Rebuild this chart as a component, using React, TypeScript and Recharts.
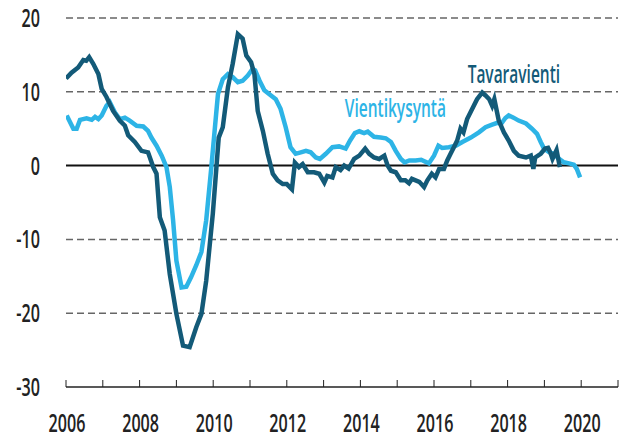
import { LineChart, Line, XAxis, YAxis, ReferenceLine, ReferenceDot } from "recharts"

// Tavaravienti (dark)
const exportYears = [
  2006.0, 2006.15, 2006.33, 2006.47, 2006.55, 2006.63, 2006.74, 2006.88, 2006.97, 2007.1,
  2007.28, 2007.46, 2007.6, 2007.69, 2007.87, 2008.05, 2008.23, 2008.37, 2008.46, 2008.55,
  2008.68, 2008.82, 2009.0, 2009.18, 2009.36, 2009.54, 2009.68, 2009.81, 2009.99, 2010.15,
  2010.26, 2010.4, 2010.53, 2010.67, 2010.8, 2010.9, 2011.03, 2011.12, 2011.21, 2011.35,
  2011.48, 2011.62, 2011.75, 2011.89, 2012.0, 2012.14, 2012.22, 2012.33, 2012.43, 2012.57,
  2012.74, 2012.88, 2013.02, 2013.1, 2013.24, 2013.33, 2013.46, 2013.56, 2013.68, 2013.83,
  2013.97, 2014.13, 2014.24, 2014.37, 2014.51, 2014.65, 2014.74, 2014.83, 2014.96, 2015.1,
  2015.22, 2015.32, 2015.4, 2015.5, 2015.6, 2015.73, 2015.82, 2015.94, 2016.04, 2016.14,
  2016.27, 2016.36, 2016.45, 2016.54, 2016.63, 2016.72, 2016.8, 2016.9, 2017.04, 2017.17,
  2017.31, 2017.4, 2017.5, 2017.58, 2017.64, 2017.76, 2017.9, 2018.03, 2018.17, 2018.3,
  2018.5, 2018.63, 2018.7, 2018.75, 2018.9, 2019.02, 2019.1, 2019.16, 2019.22, 2019.33,
  2019.42,
]
const exportValues = [
  11.8, 12.6, 13.3, 14.3, 14.2, 14.7, 13.8, 12.4, 10.4, 9.3,
  7.4, 6.1, 5.4, 4.1, 3.2, 2.0, 1.8, -0.2, -1.1, -7.0,
  -8.8, -14.7, -20.1, -24.4, -24.6, -21.9, -20.1, -15.6, -6.5, 3.8,
  5.2, 10.6, 13.8, 17.8, 17.2, 14.9, 14.0, 12.4, 7.4, 4.7,
  1.6, -1.1, -2.0, -2.5, -2.5, -3.2, 0.4, -0.2, 0.2, -0.9,
  -0.9, -1.1, -2.3, -1.4, -1.6, -0.2, -0.6, 0, -0.4, 0.9,
  1.35, 2.3, 1.6, 1.1, 0.9, 1.35, 0, -0.7, -0.9, -2.0,
  -2.0, -2.4, -1.8, -2.0, -2.2, -2.9, -2.0, -1.1, -1.6, -0.45,
  -0.45, 0.7, 1.6, 2.5, 3.4, 5.0, 4.5, 6.3, 7.7, 9.0,
  9.9, 9.5, 9.0, 8.1, 9.0, 6.1, 4.5, 3.4, 2.0, 1.35,
  1.1, 1.35, -0.45, 1.1, 1.6, 2.3, 2.4, 1.8, 0.9, 2.1,
  -0.2,
]

// Vientikysyntä (light)
const demandYears = [
  2006.02, 2006.2, 2006.29, 2006.38, 2006.56, 2006.7, 2006.79, 2006.88, 2006.97, 2007.1,
  2007.19, 2007.33, 2007.46, 2007.6, 2007.73, 2007.92, 2008.1, 2008.23, 2008.32, 2008.46,
  2008.6, 2008.73, 2008.82, 2008.91, 2009.0, 2009.14, 2009.27, 2009.4, 2009.54, 2009.68,
  2009.81, 2009.95, 2010.08, 2010.13, 2010.26, 2010.4, 2010.53, 2010.67, 2010.8, 2010.94,
  2011.07, 2011.14, 2011.26, 2011.39, 2011.57, 2011.7, 2011.83, 2011.97, 2012.1, 2012.24,
  2012.38, 2012.52, 2012.65, 2012.79, 2012.9, 2013.06, 2013.24, 2013.42, 2013.6, 2013.72,
  2013.85, 2013.97, 2014.1, 2014.2, 2014.37, 2014.55, 2014.69, 2014.83, 2014.96, 2015.1,
  2015.2, 2015.33, 2015.5, 2015.65, 2015.86, 2016.0, 2016.12, 2016.22, 2016.4, 2016.6,
  2016.77, 2017.0, 2017.22, 2017.4, 2017.58, 2017.72, 2017.83, 2017.94, 2018.03, 2018.16,
  2018.3, 2018.5, 2018.66, 2018.8, 2018.9, 2018.99, 2019.13, 2019.26, 2019.4, 2019.53,
  2019.67, 2019.8, 2019.88, 2019.97,
]
const demandValues = [
  6.8, 5.0, 5.0, 6.2, 6.4, 6.2, 6.6, 6.3, 6.8, 8.1,
  8.6, 7.2, 6.3, 6.5, 6.1, 5.4, 5.3, 4.7, 3.8, 2.7,
  1.35, -0.2, -2.9, -7.4, -12.9, -16.5, -16.4, -15.1, -13.5, -11.7,
  -7.4, -0.2, 7.0, 9.7, 11.7, 12.4, 12.0, 11.3, 11.5, 12.2,
  13.1, 12.9, 11.5, 10.2, 9.5, 9.0, 7.7, 5.2, 2.5, 1.6,
  1.8, 2.0, 1.8, 1.1, 0.9, 1.6, 2.5, 2.6, 2.3, 3.4,
  4.4, 4.65, 4.4, 4.6, 3.9, 3.8, 3.7, 3.2, 2.0, 0.9,
  0.45, 0.7, 0.7, 0.8, 0.3, 1.35, 2.7, 2.4, 2.5, 2.7,
  3.2, 3.8, 4.5, 5.2, 5.55, 5.8, 5.7, 6.45, 6.8, 6.5,
  6.1, 5.7, 5.0, 4.3, 3.2, 2.3, 1.8, 1.6, 0.9, 0.45,
  0.3, 0.13, -0.45, -1.6,
]

const xTicks = [2006, 2007, 2008, 2009, 2010, 2011, 2012, 2013, 2014, 2015, 2016, 2017, 2018, 2019, 2020, 2021]
const yTicks = [-30, -20, -10, 0, 10, 20]
const gridValues = [20, 10, -10, -20]

const exportData = exportYears.map((t, i) => ({ t, v: exportValues[i] }))
const demandData = demandYears.map((t, i) => ({ t, v: demandValues[i] }))

const FONT = "'Open Sans', sans-serif"
const SQUEEZE = 0.62
const DARK = "#135a78"
const LIGHT = "#2db4e6"
const INK = "#222"

function YearTick(props: any) {
  const { x, y, payload } = props
  const year = payload.value as number
  return (
    <g>
      <line x1={x} x2={x} y1={y} y2={y - 7} stroke={INK} strokeWidth={1} />
      {year % 2 === 0 && year < 2021 ? (
        <text
          transform={`translate(${x + 1},${y + 45}) scale(${SQUEEZE},1)`}
          textAnchor="middle"
          fontSize={26}
          fontWeight={600}
          fill={INK}
          fontFamily={FONT}
        >
          {year}
        </text>
      ) : null}
    </g>
  )
}

function ValueTick(props: any) {
  const { x, y, payload } = props
  return (
    <text
      transform={`translate(${x},${y + 9}) scale(${SQUEEZE},1)`}
      textAnchor="end"
      fontSize={26}
      fontWeight={600}
      fill={INK}
      fontFamily={FONT}
    >
      {payload.value}
    </text>
  )
}

function SeriesName(props: any) {
  const { viewBox, value, fill } = props
  const cx = viewBox.x + viewBox.width / 2
  const cy = viewBox.y + viewBox.height / 2
  return (
    <text
      transform={`translate(${cx},${cy}) scale(${SQUEEZE},1)`}
      textAnchor="middle"
      fontSize={25}
      fontWeight={600}
      fill={fill}
      fontFamily={FONT}
    >
      {value}
    </text>
  )
}

export default function App() {
  return (
    <div style={{ position: "absolute", left: 0, top: 0, background: "#fff" }}>
      <LineChart width={622} height={441} margin={{ top: 18, right: 4, bottom: 24, left: 0 }}>
        <XAxis
          dataKey="t"
          type="number"
          domain={[2006, 2021]}
          ticks={xTicks}
          allowDataOverflow
          height={30}
          axisLine={{ stroke: INK, strokeWidth: 1.5 }}
          tickLine={false}
          tickSize={0}
          tickMargin={0}
          tick={<YearTick />}
          interval={0}
        />
        <YAxis
          type="number"
          domain={[-30, 20]}
          ticks={yTicks}
          axisLine={false}
          tickLine={false}
          tickSize={0}
          tickMargin={26}
          width={66}
          tick={<ValueTick />}
        />
        {gridValues.map((g) => (
          <ReferenceLine key={g} y={g} stroke="#666" strokeWidth={1.5} strokeDasharray="7 4" />
        ))}
        <ReferenceLine y={0} stroke="#111" strokeWidth={2} />
        <Line
          data={demandData}
          dataKey="v"
          type="linear"
          stroke={LIGHT}
          strokeWidth={4.5}
          dot={false}
          isAnimationActive={false}
        />
        <Line
          data={exportData}
          dataKey="v"
          type="linear"
          stroke={DARK}
          strokeWidth={4.5}
          dot={false}
          isAnimationActive={false}
        />
        <ReferenceDot x={2018.17} y={11.15} r={0} label={<SeriesName value="Tavaravienti" fill={DARK} />} />
        <ReferenceDot x={2014.95} y={6.55} r={0} label={<SeriesName value="Vientikysyntä" fill={LIGHT} />} />
      </LineChart>
    </div>
  )
}
